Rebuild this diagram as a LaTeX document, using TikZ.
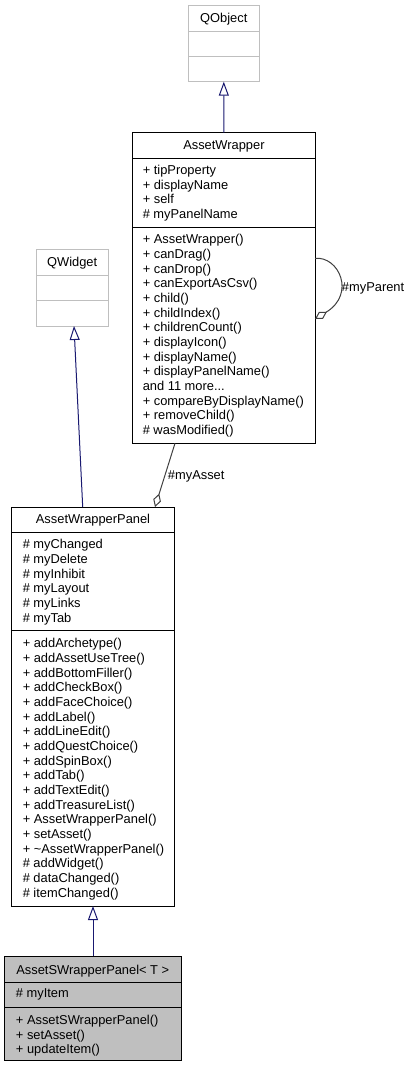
\documentclass[tikz,border=0pt]{standalone}
\usepackage{fontspec}
\setmainfont{Liberation Sans}
\usetikzlibrary{arrows.meta,calc}
\definecolor{inh}{HTML}{191970}
\definecolor{assoc}{HTML}{404040}
\definecolor{gborder}{HTML}{BFBFBF}
\definecolor{gfill}{HTML}{BFBFBF}
\newcommand\awmoretext{and 11 more...}
\tikzset{
  box/.style={draw=black,line width=0.75pt,rectangle,anchor=north west,inner sep=0pt,outer sep=0pt},
  extbox/.style={box,draw=gborder},
  txt/.style={anchor=base west,inner sep=0pt,font=\fontsize{9.65pt}{11pt}\selectfont},
  ttl/.style={anchor=base,inner sep=0pt,font=\fontsize{9.65pt}{11pt}\selectfont},
  inhline/.style={draw=inh,line width=0.75pt,-{Triangle[length=10.5pt,width=7.5pt,fill=white]}},
  aggline/.style={draw=assoc,line width=0.75pt,-{Diamond[length=10.5pt,width=6pt,fill=white]}},
  divider/.style={line width=0.75pt}
}
\begin{document}
\begin{tikzpicture}[x=0.75pt,y=-0.75pt]
\useasboundingbox (0,0) rectangle (410,1068);
% QObject
\node[extbox,minimum width=71*0.75pt,minimum height=76*0.75pt] (qobj) at (188.3,5.7) {};
\draw[divider,draw=gborder] (188.3,31.3) -- (259.3,31.3) (188.3,56.7) -- (259.3,56.7);
\node[ttl] (qobjt) at (223.8,22) {QObject};
% QWidget
\node[extbox,minimum width=72.3*0.75pt,minimum height=76.7*0.75pt] (qw) at (36,249.3) {};
\draw[divider,draw=gborder] (36,275) -- (108.3,275) (36,300.7) -- (108.3,300.7);
\node[ttl] (qwt) at (72.2,266.8) {QWidget};
% AssetWrapper
\node[box,minimum width=182.3*0.75pt,minimum height=310.6*0.75pt] (aw) at (132.7,132.7) {};
\draw[divider] (132.7,158) -- (315,158) (132.7,227.7) -- (315,227.7);
\node[ttl] (awt) at (223.9,149) {AssetWrapper};
\foreach \t [count=\i] in {+ tipProperty,+ displayName,+ self,\# myPanelName}
  \node[txt] (awa\i) at (142.5,{174.5+14.5*(\i-1)}) {\t};
\foreach \t [count=\i] in {+ AssetWrapper(),+ canDrag(),+ canDrop(),+ canExportAsCsv(),+ child(),+ childIndex(),+ childrenCount(),+ displayIcon(),+ displayName(),+ displayPanelName(),\awmoretext,+ compareByDisplayName(),+ removeChild(),\# wasModified()}
  \node[txt] (awm\i) at (142.5,{243.8+14.67*(\i-1)}) {\t};
% AssetWrapperPanel
\node[box,minimum width=162.6*0.75pt,minimum height=399*0.75pt] (awp) at (11.7,507) {};
\draw[divider] (11.7,532.7) -- (174.3,532.7) (11.7,630.7) -- (174.3,630.7);
\node[ttl] (awpt) at (93,523.8) {AssetWrapperPanel};
\foreach \t [count=\i] in {\# myChanged,\# myDelete,\# myInhibit,\# myLayout,\# myLinks,\# myTab}
  \node[txt] (awpa\i) at (22.5,{548.8+14.67*(\i-1)}) {\t};
\foreach \t [count=\i] in {+ addArchetype(),+ addAssetUseTree(),+ addBottomFiller(),+ addCheckBox(),+ addFaceChoice(),+ addLabel(),+ addLineEdit(),+ addQuestChoice(),+ addSpinBox(),+ addTab(),+ addTextEdit(),+ addTreasureList(),+ AssetWrapperPanel(),+ setAsset(),+ \textasciitilde AssetWrapperPanel(),\# addWidget(),\# dataChanged(),\# itemChanged()}
  \node[txt] (awpm\i) at (22.5,{647.8+14.67*(\i-1)}) {\t};
% AssetSWrapperPanel
\node[box,fill=gfill,minimum width=177.7*0.75pt,minimum height=104.7*0.75pt] (aswp) at (4,956) {};
\draw[divider] (4,982.3) -- (181.7,982.3) (4,1007.3) -- (181.7,1007.3);
\node[ttl] (aswpt) at (92.8,974.5) {AssetSWrapperPanel< T >};
\node[txt] (aswpa1) at (15.7,997.8) {\# myItem};
\foreach \t [count=\i] in {+ AssetSWrapperPanel(),+ setAsset(),+ updateItem()}
  \node[txt] (aswpm\i) at (15.7,{1024.5+14.5*(\i-1)}) {\t};
% connectors
\draw[inhline] (aw.north) -- (qobj.south);
\coordinate (awptop) at ($(awp.north west)+(71,0)$);
\coordinate (qwbot) at ($(qw.south west)+(38,0)$);
\draw[inhline] (awptop) -- (qwbot);
\draw[inhline] (aswp.north -| awp.south) -- (awp.south);
\coordinate (awbot) at ($(aw.south west)+(42.3,0)$);
\coordinate (awptop2) at ($(awp.north west)+(143.3,0)$);
\draw[aggline] (awbot) -- (awptop2);
\node[txt] (lasset) at (167.7,479.5) {\#myAsset};
\coordinate (loopstart) at ($(aw.north east)+(0,125.6)$);
\coordinate (loopend) at ($(aw.north east)+(0,186.3)$);
\draw[aggline] (loopstart) .. controls (339,256) and (356,294) .. (loopend);
\node[txt] (lparent) at (341.7,291) {\#myParent};
\end{tikzpicture}
\end{document}
